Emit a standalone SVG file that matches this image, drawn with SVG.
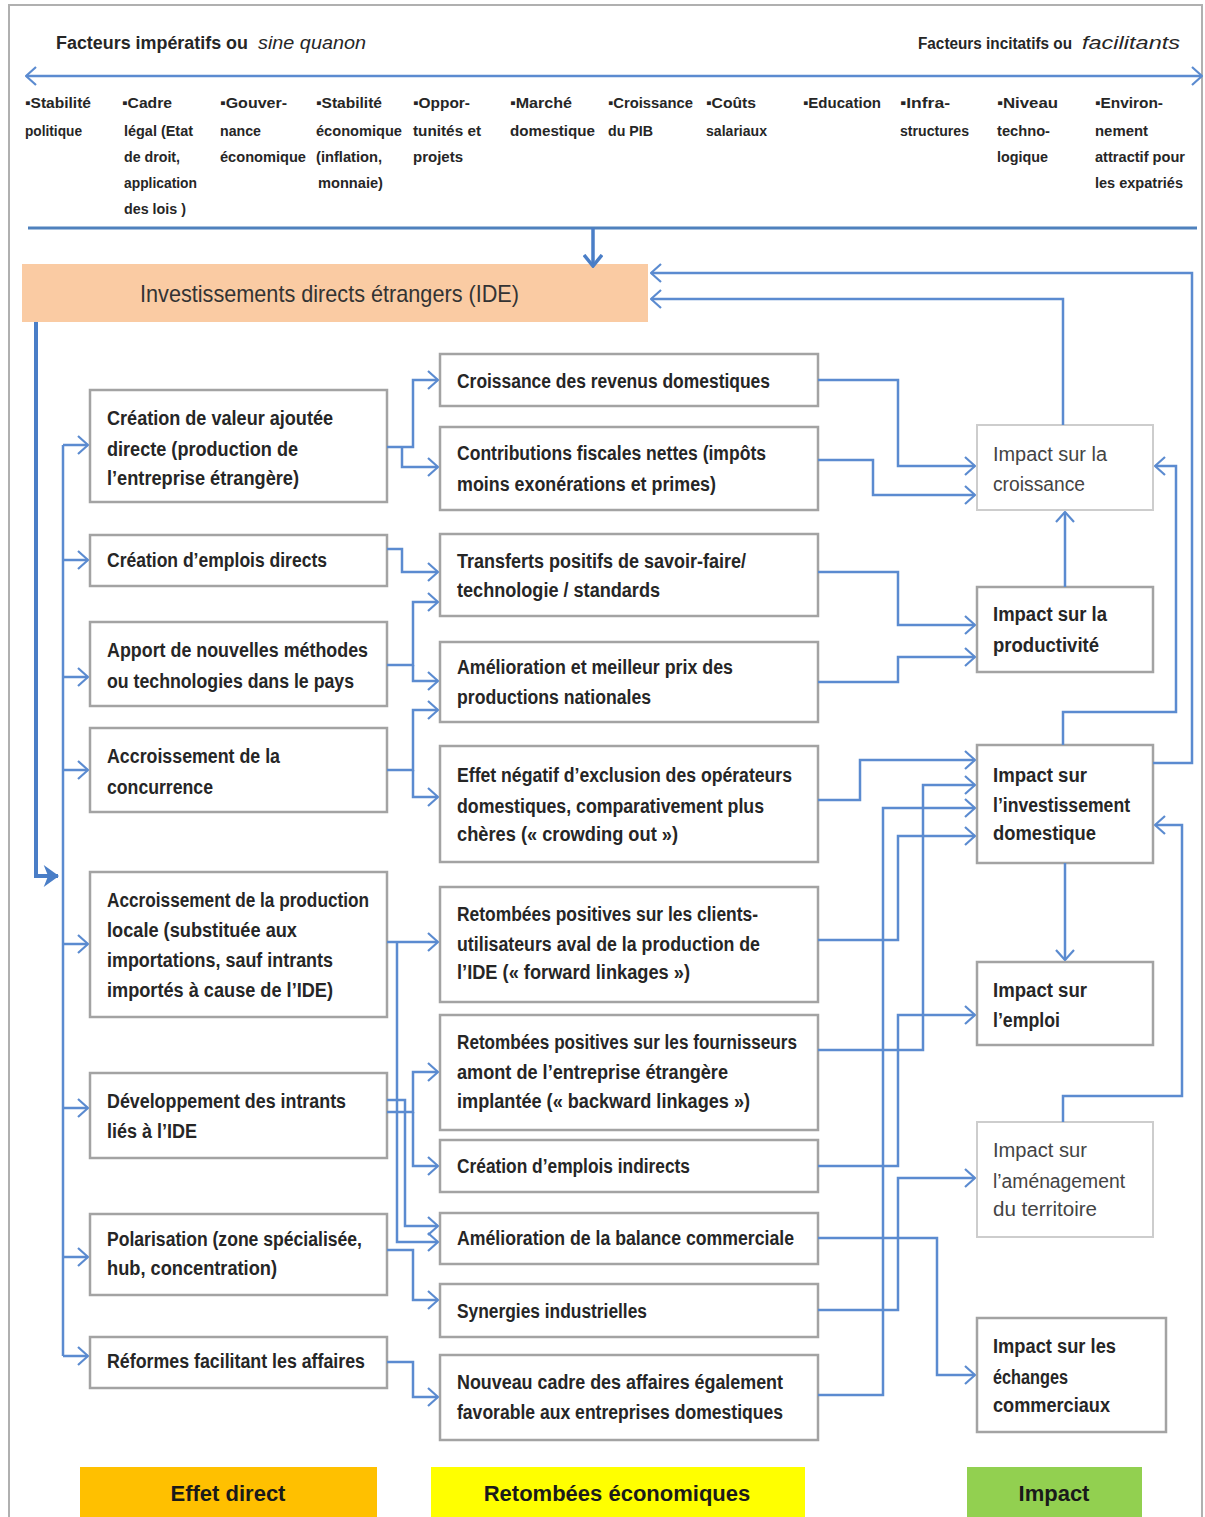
<svg xmlns="http://www.w3.org/2000/svg" width="1205" height="1517" viewBox="0 0 1205 1517">
<style>
.box{fill:#fff;stroke:#A3A3A3;stroke-width:2.5}
.boxl{fill:#fff;stroke:#CDCDCD;stroke-width:2}
.t{font-family:"Liberation Sans Narrow","Liberation Sans",Arial,sans-serif;font-size:20px;font-weight:bold;fill:#262626}
.tl{font-family:"Liberation Sans Narrow","Liberation Sans",Arial,sans-serif;font-size:20px;font-weight:normal;fill:#444}
.f{font-family:"Liberation Sans Narrow","Liberation Sans",Arial,sans-serif;font-size:15px;font-weight:bold;fill:#262626}
.h{font-family:"Liberation Sans Narrow","Liberation Sans",Arial,sans-serif;font-weight:bold;fill:#262626}
.hi{font-family:"Liberation Sans Narrow","Liberation Sans",Arial,sans-serif;font-size:18px;font-style:italic;fill:#262626}
.lab{font-family:"Liberation Sans Narrow","Liberation Sans",Arial,sans-serif;font-size:22px;font-weight:bold;fill:#1a1a1a;text-anchor:middle}
.c{fill:none;stroke:#5B8BD0;stroke-width:2.5}
.ca{fill:none;stroke:#5B8BD0;stroke-width:2.5;marker-end:url(#arr)}
</style>
<defs>
<marker id="arr" viewBox="0 0 12 20" refX="11" refY="10" markerWidth="12" markerHeight="20" markerUnits="userSpaceOnUse" orient="auto-start-reverse">
<path d="M1,1 L11,10 L1,19" fill="none" stroke="#5B8BD0" stroke-width="2.2"/>
</marker>
<marker id="arrT" viewBox="0 0 14 20" refX="12" refY="10" markerWidth="14" markerHeight="20" markerUnits="userSpaceOnUse" orient="auto">
<path d="M1,1 L12,10 L1,19" fill="none" stroke="#4A7EC7" stroke-width="3.5"/>
</marker>
<marker id="arrF" viewBox="0 0 14 20" refX="13" refY="10" markerWidth="16" markerHeight="22" markerUnits="userSpaceOnUse" orient="auto">
<path d="M0,0 L14,10 L0,20 L4,10 Z" fill="#4A7EC7"/>
</marker>
</defs>
<rect x="0" y="0" width="1205" height="1517" fill="#fff"/>
<rect x="9" y="5" width="1193" height="1520" fill="none" stroke="#B0B0B0" stroke-width="2"/>

<g id="header">
<text class="h" x="56" y="49" font-size="18" textLength="192" lengthAdjust="spacingAndGlyphs">Facteurs impératifs ou</text>
<text class="hi" x="258" y="49" textLength="108" lengthAdjust="spacingAndGlyphs">sine quanon</text>
<text class="h" x="918" y="49" font-size="16" textLength="154" lengthAdjust="spacingAndGlyphs">Facteurs incitatifs ou</text>
<text class="hi" x="1082" y="49" textLength="98" lengthAdjust="spacingAndGlyphs">facilitants</text>
</g>

<g id="factors">
<text class="f" x="25" y="108" textLength="66" lengthAdjust="spacingAndGlyphs">▪Stabilité</text>
<text class="f" x="25" y="136" textLength="57" lengthAdjust="spacingAndGlyphs">politique</text>
<text class="f" x="122" y="108" textLength="50" lengthAdjust="spacingAndGlyphs">▪Cadre</text>
<text class="f" x="124" y="136" textLength="69" lengthAdjust="spacingAndGlyphs">légal (Etat</text>
<text class="f" x="124" y="162" textLength="56" lengthAdjust="spacingAndGlyphs">de droit,</text>
<text class="f" x="124" y="188" textLength="73" lengthAdjust="spacingAndGlyphs">application</text>
<text class="f" x="124" y="214" textLength="62" lengthAdjust="spacingAndGlyphs">des lois )</text>
<text class="f" x="220" y="108" textLength="67" lengthAdjust="spacingAndGlyphs">▪Gouver-</text>
<text class="f" x="220" y="136" textLength="41" lengthAdjust="spacingAndGlyphs">nance</text>
<text class="f" x="220" y="162" textLength="86" lengthAdjust="spacingAndGlyphs">économique</text>
<text class="f" x="316" y="108" textLength="66" lengthAdjust="spacingAndGlyphs">▪Stabilité</text>
<text class="f" x="316" y="136" textLength="86" lengthAdjust="spacingAndGlyphs">économique</text>
<text class="f" x="316" y="162" textLength="66" lengthAdjust="spacingAndGlyphs">(inflation,</text>
<text class="f" x="318" y="188" textLength="65" lengthAdjust="spacingAndGlyphs">monnaie)</text>
<text class="f" x="413" y="108" textLength="57" lengthAdjust="spacingAndGlyphs">▪Oppor-</text>
<text class="f" x="413" y="136" textLength="68" lengthAdjust="spacingAndGlyphs">tunités et</text>
<text class="f" x="413" y="162" textLength="50" lengthAdjust="spacingAndGlyphs">projets</text>
<text class="f" x="510" y="108" textLength="62" lengthAdjust="spacingAndGlyphs">▪Marché</text>
<text class="f" x="510" y="136" textLength="85" lengthAdjust="spacingAndGlyphs">domestique</text>
<text class="f" x="608" y="108" textLength="85" lengthAdjust="spacingAndGlyphs">▪Croissance</text>
<text class="f" x="608" y="136" textLength="45" lengthAdjust="spacingAndGlyphs">du PIB</text>
<text class="f" x="706" y="108" textLength="50" lengthAdjust="spacingAndGlyphs">▪Coûts</text>
<text class="f" x="706" y="136" textLength="61" lengthAdjust="spacingAndGlyphs">salariaux</text>
<text class="f" x="803" y="108" textLength="78" lengthAdjust="spacingAndGlyphs">▪Education</text>
<text class="f" x="900" y="108" textLength="50" lengthAdjust="spacingAndGlyphs">▪Infra-</text>
<text class="f" x="900" y="136" textLength="69" lengthAdjust="spacingAndGlyphs">structures</text>
<text class="f" x="997" y="108" textLength="61" lengthAdjust="spacingAndGlyphs">▪Niveau</text>
<text class="f" x="997" y="136" textLength="53" lengthAdjust="spacingAndGlyphs">techno-</text>
<text class="f" x="997" y="162" textLength="51" lengthAdjust="spacingAndGlyphs">logique</text>
<text class="f" x="1095" y="108" textLength="68" lengthAdjust="spacingAndGlyphs">▪Environ-</text>
<text class="f" x="1095" y="136" textLength="53" lengthAdjust="spacingAndGlyphs">nement</text>
<text class="f" x="1095" y="162" textLength="90" lengthAdjust="spacingAndGlyphs">attractif pour</text>
<text class="f" x="1095" y="188" textLength="88" lengthAdjust="spacingAndGlyphs">les expatriés</text>
</g>

<g id="ide">
<rect x="22" y="264" width="626" height="58" fill="#FACBA3"/>
<text x="140" y="302" font-family="'Liberation Sans Narrow','Liberation Sans',Arial,sans-serif" font-size="24" fill="#333" textLength="379" lengthAdjust="spacingAndGlyphs">Investissements directs étrangers (IDE)</text>
</g>

<g id="left-column">
<g id="l1"><rect class="box" x="90" y="390" width="297" height="112"/>
<text class="t" x="107" y="425" textLength="226" lengthAdjust="spacingAndGlyphs">Création de valeur ajoutée</text>
<text class="t" x="107" y="456" textLength="191" lengthAdjust="spacingAndGlyphs">directe (production de</text>
<text class="t" x="107" y="485" textLength="192" lengthAdjust="spacingAndGlyphs">l’entreprise étrangère)</text></g>
<g id="l2"><rect class="box" x="90" y="535" width="297" height="51"/>
<text class="t" x="107" y="567" textLength="220" lengthAdjust="spacingAndGlyphs">Création d’emplois directs</text></g>
<g id="l3"><rect class="box" x="90" y="622" width="297" height="84"/>
<text class="t" x="107" y="657" textLength="261" lengthAdjust="spacingAndGlyphs">Apport de nouvelles méthodes</text>
<text class="t" x="107" y="688" textLength="247" lengthAdjust="spacingAndGlyphs">ou technologies dans le pays</text></g>
<g id="l4"><rect class="box" x="90" y="728" width="297" height="84"/>
<text class="t" x="107" y="763" textLength="173" lengthAdjust="spacingAndGlyphs">Accroissement de la</text>
<text class="t" x="107" y="794" textLength="106" lengthAdjust="spacingAndGlyphs">concurrence</text></g>
<g id="l5"><rect class="box" x="90" y="872" width="297" height="145"/>
<text class="t" x="107" y="907" textLength="262" lengthAdjust="spacingAndGlyphs">Accroissement de la production</text>
<text class="t" x="107" y="937" textLength="190" lengthAdjust="spacingAndGlyphs">locale (substituée aux</text>
<text class="t" x="107" y="967" textLength="226" lengthAdjust="spacingAndGlyphs">importations, sauf intrants</text>
<text class="t" x="107" y="997" textLength="226" lengthAdjust="spacingAndGlyphs">importés à cause de l’IDE)</text></g>
<g id="l6"><rect class="box" x="90" y="1073" width="297" height="85"/>
<text class="t" x="107" y="1108" textLength="239" lengthAdjust="spacingAndGlyphs">Développement des intrants</text>
<text class="t" x="107" y="1138" textLength="90" lengthAdjust="spacingAndGlyphs">liés à l’IDE</text></g>
<g id="l7"><rect class="box" x="90" y="1214" width="297" height="81"/>
<text class="t" x="107" y="1246" textLength="255" lengthAdjust="spacingAndGlyphs">Polarisation (zone spécialisée,</text>
<text class="t" x="107" y="1275" textLength="170" lengthAdjust="spacingAndGlyphs">hub, concentration)</text></g>
<g id="l8"><rect class="box" x="90" y="1337" width="297" height="51"/>
<text class="t" x="107" y="1368" textLength="258" lengthAdjust="spacingAndGlyphs">Réformes facilitant les affaires</text></g>
</g>

<g id="middle-column">
<g id="m1"><rect class="box" x="440" y="354" width="378" height="52"/>
<text class="t" x="457" y="388" textLength="313" lengthAdjust="spacingAndGlyphs">Croissance des revenus domestiques</text></g>
<g id="m2"><rect class="box" x="440" y="427" width="378" height="83"/>
<text class="t" x="457" y="460" textLength="309" lengthAdjust="spacingAndGlyphs">Contributions fiscales nettes (impôts</text>
<text class="t" x="457" y="491" textLength="259" lengthAdjust="spacingAndGlyphs">moins exonérations et primes)</text></g>
<g id="m3"><rect class="box" x="440" y="534" width="378" height="82"/>
<text class="t" x="457" y="568" textLength="289" lengthAdjust="spacingAndGlyphs">Transferts positifs de savoir-faire/</text>
<text class="t" x="457" y="597" textLength="203" lengthAdjust="spacingAndGlyphs">technologie / standards</text></g>
<g id="m4"><rect class="box" x="440" y="642" width="378" height="80"/>
<text class="t" x="457" y="674" textLength="276" lengthAdjust="spacingAndGlyphs">Amélioration et meilleur prix des</text>
<text class="t" x="457" y="704" textLength="194" lengthAdjust="spacingAndGlyphs">productions nationales</text></g>
<g id="m5"><rect class="box" x="440" y="746" width="378" height="116"/>
<text class="t" x="457" y="782" textLength="335" lengthAdjust="spacingAndGlyphs">Effet négatif d’exclusion des opérateurs</text>
<text class="t" x="457" y="813" textLength="307" lengthAdjust="spacingAndGlyphs">domestiques, comparativement plus</text>
<text class="t" x="457" y="841" textLength="221" lengthAdjust="spacingAndGlyphs">chères (« crowding out »)</text></g>
<g id="m6"><rect class="box" x="440" y="887" width="378" height="115"/>
<text class="t" x="457" y="921" textLength="301" lengthAdjust="spacingAndGlyphs">Retombées positives sur les clients-</text>
<text class="t" x="457" y="951" textLength="303" lengthAdjust="spacingAndGlyphs">utilisateurs aval de la production de</text>
<text class="t" x="457" y="979" textLength="233" lengthAdjust="spacingAndGlyphs">l’IDE (« forward linkages »)</text></g>
<g id="m7"><rect class="box" x="440" y="1015" width="378" height="115"/>
<text class="t" x="457" y="1049" textLength="340" lengthAdjust="spacingAndGlyphs">Retombées positives sur les fournisseurs</text>
<text class="t" x="457" y="1079" textLength="271" lengthAdjust="spacingAndGlyphs">amont de l’entreprise étrangère</text>
<text class="t" x="457" y="1108" textLength="293" lengthAdjust="spacingAndGlyphs">implantée (« backward linkages »)</text></g>
<g id="m8"><rect class="box" x="440" y="1140" width="378" height="52"/>
<text class="t" x="457" y="1173" textLength="233" lengthAdjust="spacingAndGlyphs">Création d’emplois indirects</text></g>
<g id="m9"><rect class="box" x="440" y="1213" width="378" height="51"/>
<text class="t" x="457" y="1245" textLength="337" lengthAdjust="spacingAndGlyphs">Amélioration de la balance commerciale</text></g>
<g id="m10"><rect class="box" x="440" y="1284" width="378" height="53"/>
<text class="t" x="457" y="1318" textLength="190" lengthAdjust="spacingAndGlyphs">Synergies industrielles</text></g>
<g id="m11"><rect class="box" x="440" y="1355" width="378" height="85"/>
<text class="t" x="457" y="1389" textLength="326" lengthAdjust="spacingAndGlyphs">Nouveau cadre des affaires également</text>
<text class="t" x="457" y="1419" textLength="326" lengthAdjust="spacingAndGlyphs">favorable aux entreprises domestiques</text></g>
</g>

<g id="right-column">
<g id="r1"><rect class="boxl" x="977" y="425" width="176" height="85"/>
<text class="tl" x="993" y="461" textLength="114" lengthAdjust="spacingAndGlyphs">Impact sur la</text>
<text class="tl" x="993" y="491" textLength="92" lengthAdjust="spacingAndGlyphs">croissance</text></g>
<g id="r2"><rect class="box" x="977" y="587" width="176" height="85"/>
<text class="t" x="993" y="621" textLength="114" lengthAdjust="spacingAndGlyphs">Impact sur la</text>
<text class="t" x="993" y="652" textLength="106" lengthAdjust="spacingAndGlyphs">productivité</text></g>
<g id="r3"><rect class="box" x="977" y="745" width="176" height="118"/>
<text class="t" x="993" y="782" textLength="94" lengthAdjust="spacingAndGlyphs">Impact sur</text>
<text class="t" x="993" y="812" textLength="137" lengthAdjust="spacingAndGlyphs">l’investissement</text>
<text class="t" x="993" y="840" textLength="103" lengthAdjust="spacingAndGlyphs">domestique</text></g>
<g id="r4"><rect class="box" x="977" y="962" width="176" height="83"/>
<text class="t" x="993" y="997" textLength="94" lengthAdjust="spacingAndGlyphs">Impact sur</text>
<text class="t" x="993" y="1027" textLength="67" lengthAdjust="spacingAndGlyphs">l’emploi</text></g>
<g id="r5"><rect class="boxl" x="977" y="1122" width="176" height="115"/>
<text class="tl" x="993" y="1157" textLength="94" lengthAdjust="spacingAndGlyphs">Impact sur</text>
<text class="tl" x="993" y="1188" textLength="132" lengthAdjust="spacingAndGlyphs">l’aménagement</text>
<text class="tl" x="993" y="1216" textLength="104" lengthAdjust="spacingAndGlyphs">du territoire</text></g>
<g id="r6"><rect class="box" x="977" y="1318" width="189" height="114"/>
<text class="t" x="993" y="1353" textLength="123" lengthAdjust="spacingAndGlyphs">Impact sur les</text>
<text class="t" x="993" y="1384" textLength="75" lengthAdjust="spacingAndGlyphs">échanges</text>
<text class="t" x="993" y="1412" textLength="117" lengthAdjust="spacingAndGlyphs">commerciaux</text></g>
</g>

<g id="legend">
<g id="lg1"><rect x="80" y="1467" width="297" height="55" fill="#FFC000"/>
<text class="lab" x="228" y="1501">Effet direct</text></g>
<g id="lg2"><rect x="431" y="1467" width="374" height="55" fill="#FFFF00"/>
<text class="lab" x="617" y="1501">Retombées économiques</text></g>
<g id="lg3"><rect x="967" y="1467" width="175" height="55" fill="#92D050"/>
<text class="lab" x="1054" y="1501">Impact</text></g>
</g>

<g id="connectors">
<path d="M26,76 H1202" fill="none" stroke="#5B8BD0" stroke-width="2.5" marker-start="url(#arr)" marker-end="url(#arr)"/>
<path d="M28,228 H1197" fill="none" stroke="#4F81BD" stroke-width="3"/>
<path d="M593,228 V266" fill="none" stroke="#4A7EC7" stroke-width="3.5" marker-end="url(#arrT)"/>
<path d="M36,322 V876 H58" fill="none" stroke="#4A7EC7" stroke-width="4" marker-end="url(#arrF)"/>
<path class="c" d="M63,445 V1356"/>
<path class="ca" d="M63,445 H88"/>
<path class="ca" d="M63,560 H88"/>
<path class="ca" d="M63,677 H88"/>
<path class="ca" d="M63,770 H88"/>
<path class="ca" d="M63,944 H88"/>
<path class="ca" d="M63,1108 H88"/>
<path class="ca" d="M63,1257 H88"/>
<path class="ca" d="M63,1356 H88"/>

<path class="ca" d="M387,447 H413 V380 H438"/>
<path class="ca" d="M402,447 V467 H438"/>
<path class="ca" d="M387,549 H402 V572 H438"/>
<path class="ca" d="M387,665 H413 V602 H438"/>
<path class="ca" d="M413,665 V681 H438"/>
<path class="ca" d="M387,770 H413 V710 H438"/>
<path class="ca" d="M413,770 V797 H438"/>
<path class="ca" d="M387,942 H438"/>
<path class="ca" d="M397,942 V1242 H438"/>
<path class="ca" d="M387,1112 H413 V1072 H438"/>
<path class="ca" d="M413,1112 V1166 H438"/>
<path class="ca" d="M387,1100 H405 V1226 H438"/>
<path class="ca" d="M387,1250 H413 V1300 H438"/>
<path class="ca" d="M387,1362 H413 V1397 H438"/>

<path class="ca" d="M818,380 H898 V466 H975"/>
<path class="ca" d="M818,460 H873 V495 H975"/>
<path class="ca" d="M818,572 H898 V625 H975"/>
<path class="ca" d="M818,682 H898 V657 H975"/>
<path class="ca" d="M818,800 H860 V760 H975"/>
<path class="ca" d="M818,1050 H923 V785 H975"/>
<path class="ca" d="M818,1395 H883 V808 H975"/>
<path class="ca" d="M818,940 H898 V836 H975"/>
<path class="ca" d="M818,1166 H898 V1015 H975"/>
<path class="ca" d="M818,1310 H898 V1178 H975"/>
<path class="ca" d="M818,1238 H937 V1375 H975"/>

<path class="ca" d="M1063,425 V299 H651"/>
<path class="ca" d="M1153,763 H1192 V273 H651"/>
<path class="ca" d="M1063,745 V712 H1176 V466 H1155"/>
<path class="ca" d="M1065,587 V512"/>
<path class="ca" d="M1065,863 V960"/>
<path class="ca" d="M1063,1122 V1096 H1182 V825 H1155"/>
</g>
</svg>
